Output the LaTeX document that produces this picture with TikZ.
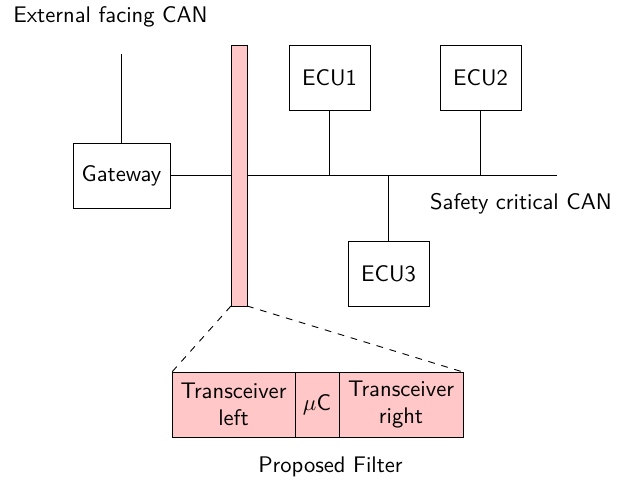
\documentclass[tikz,border=0pt]{standalone}
\usetikzlibrary{positioning}
\begin{document}
\sffamily
\begin{tikzpicture}[x=0.443pt, y=-0.443pt,
    unit/.style ={rectangle, draw, inner sep=0pt, outer sep=0pt},
    ecu/.style ={unit, minimum width=35.9pt, minimum height=29.2pt},
    filterpart/.style ={unit, fill=red!22, minimum height=28.8pt, align=center}]
   \useasboundingbox (0,0) rectangle (627,481);
   % labels
   \node (extcan) at (110.5,17)  {External facing CAN};
   \node (safecan) at (521,204)  {Safety critical CAN};
   \node (proposed) at (330.5,467)  {Proposed Filter};
   % units on the bus
   \node[unit, minimum width=43pt, minimum height=28.8pt] (gateway) at (121.5,175.5)  {Gateway};
   \node[unit, fill=red!22, minimum width=7.1pt, minimum height=115.6pt] (filter) at (239,175.5)  {};
   \node[ecu] (ecu1) at (329.5,78)  {ECU1};
   \node[ecu] (ecu2) at (480.5,78)  {ECU2};
   \node[ecu] (ecu3) at (388.5,274)  {ECU3};
   \coordinate (extend) at (121.5,54);
   \coordinate (busend) at (557,175.5);
   % zoomed filter
   \node[filterpart, minimum width=54.5pt] (tleft) at (233.5,404.5)  {Transceiver\\left};
   \node[filterpart, minimum width=19.5pt] (mc) at (317,404.5)  {$\mu$C};
   \node[filterpart, minimum width=54.9pt] (tright) at (401,404.5)  {Transceiver\\right};
   \draw (gateway) to  (extend);
   \draw (gateway) to  (filter);
   \draw (filter) to  (busend);
   \draw (ecu1) to  (ecu1 |- busend);
   \draw (ecu2) to  (ecu2 |- busend);
   \draw (ecu3) to  (ecu3 |- busend);
   \draw[dashed] (filter.south west) to  (tleft.north west);
   \draw[dashed] (filter.south east) to  (tright.north east);
 \end{tikzpicture}
\end{document}
